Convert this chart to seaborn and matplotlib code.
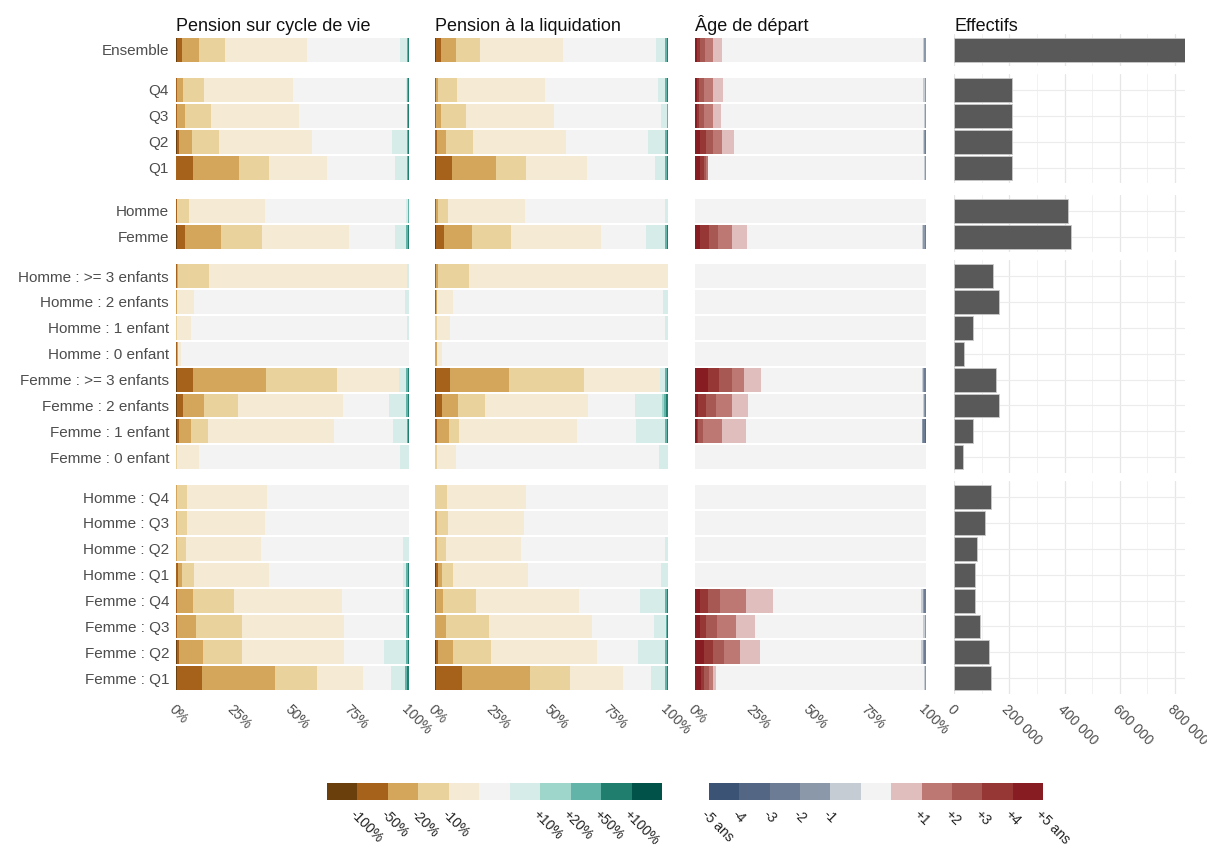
import numpy as np
import matplotlib
matplotlib.use("Agg")
import matplotlib.pyplot as plt
from matplotlib.colors import ListedColormap
from matplotlib.ticker import FixedLocator
import seaborn as sns

# ---- categories -------------------------------------------------------------
labels = [
    "Ensemble",
    "Q4", "Q3", "Q2", "Q1",
    "Homme", "Femme",
    "Homme : >= 3 enfants", "Homme : 2 enfants", "Homme : 1 enfant", "Homme : 0 enfant",
    "Femme : >= 3 enfants", "Femme : 2 enfants", "Femme : 1 enfant", "Femme : 0 enfant",
    "Homme : Q4", "Homme : Q3", "Homme : Q2", "Homme : Q1",
    "Femme : Q4", "Femme : Q3", "Femme : Q2", "Femme : Q1",
]
group_sizes = [1, 4, 2, 8, 8]

# ---- legend classes ---------------------------------------------------------
pension_classes = ["-100%", "-50%", "-20%", "-10%", "", "+10%", "+20%", "+50%", "+100%"]
pension_colors = ["#6b3f0c", "#a6611a", "#d4a65c", "#ead29c", "#f5ebd4", "#f3f3f3",
                  "#d5ece8", "#9fd6cc", "#62b4a8", "#1f7e6e", "#01534a"]
age_classes = ["-5 ans", "-4", "-3", "-2", "-1", "+1", "+2", "+3", "+4", "+5 ans"]
age_colors = ["#3b5475", "#536683", "#6c7c94", "#8a98aa", "#c5ccd4", "#f3f3f3",
              "#e0bebe", "#be7873", "#a85852", "#973735", "#871c22"]

# ---- shares (%) per class, one row per category, classes in legend order -----
cycle_de_vie = [
    [0.3, 2.4, 7.3, 11.0, 35.4, 39.7, 2.9, 0.0, 0.6, 0.4, 0.0],
    [0.0, 0.6, 2.3, 9.1, 38.4, 48.3, 0.3, 0.0, 0.6, 0.4, 0.0],
    [0.0, 0.5, 3.5, 11.2, 37.6, 46.2, 0.3, 0.0, 0.4, 0.3, 0.0],
    [0.3, 0.8, 5.9, 11.6, 39.6, 34.4, 6.4, 0.0, 0.6, 0.4, 0.0],
    [0.0, 7.1, 20.1, 12.9, 24.6, 29.3, 5.0, 0.0, 0.6, 0.4, 0.0],
    [0.0, 0.3, 0.3, 5.0, 32.5, 60.6, 1.0, 0.0, 0.2, 0.1, 0.0],
    [0.3, 3.7, 15.2, 17.9, 37.3, 19.6, 4.7, 0.0, 0.8, 0.5, 0.0],
    [0.0, 0.3, 0.6, 13.3, 84.8, 0.0, 1.0, 0.0, 0.0, 0.0, 0.0],
    [0.0, 0.0, 0.3, 0.3, 7.1, 90.7, 1.6, 0.0, 0.0, 0.0, 0.0],
    [0.0, 0.0, 0.0, 0.3, 6.3, 92.4, 1.0, 0.0, 0.0, 0.0, 0.0],
    [0.0, 0.4, 0.4, 0.0, 1.3, 97.9, 0.0, 0.0, 0.0, 0.0, 0.0],
    [0.3, 6.9, 31.4, 30.4, 26.6, 0.0, 3.1, 0.0, 0.8, 0.5, 0.0],
    [0.3, 2.6, 9.1, 14.8, 45.0, 19.8, 7.1, 0.0, 0.8, 0.5, 0.0],
    [0.3, 0.8, 5.5, 7.0, 54.2, 25.5, 5.7, 0.0, 0.6, 0.4, 0.0],
    [0.0, 0.0, 0.0, 0.5, 9.5, 86.1, 3.9, 0.0, 0.0, 0.0, 0.0],
    [0.0, 0.0, 0.3, 4.6, 34.3, 60.8, 0.0, 0.0, 0.0, 0.0, 0.0],
    [0.0, 0.0, 0.6, 4.3, 33.2, 61.9, 0.0, 0.0, 0.0, 0.0, 0.0],
    [0.0, 0.0, 0.3, 4.0, 32.3, 61.0, 2.4, 0.0, 0.0, 0.0, 0.0],
    [0.0, 0.9, 1.7, 5.1, 32.1, 57.5, 1.4, 0.0, 0.8, 0.5, 0.0],
    [0.0, 0.3, 6.9, 17.8, 46.1, 26.2, 1.4, 0.0, 0.8, 0.5, 0.0],
    [0.0, 0.3, 8.4, 19.6, 43.8, 26.6, 0.0, 0.0, 0.8, 0.5, 0.0],
    [0.3, 0.8, 10.3, 16.9, 43.8, 17.2, 9.4, 0.0, 0.8, 0.5, 0.0],
    [0.5, 10.5, 31.3, 18.1, 20.0, 11.7, 6.0, 0.0, 1.1, 0.8, 0.0],
]

liquidation = [
    [0.3, 2.3, 6.3, 10.2, 35.8, 40.0, 4.0, 0.0, 0.7, 0.4, 0.0],
    [0.0, 0.3, 0.8, 8.3, 37.9, 48.1, 3.4, 0.0, 0.7, 0.4, 0.0],
    [0.0, 0.3, 2.3, 10.5, 38.0, 45.8, 2.8, 0.0, 0.2, 0.1, 0.0],
    [0.0, 0.9, 4.0, 11.4, 40.0, 35.3, 7.1, 0.0, 0.8, 0.5, 0.0],
    [0.3, 7.0, 19.0, 12.8, 26.0, 29.3, 4.5, 0.0, 0.7, 0.4, 0.0],
    [0.0, 0.3, 0.8, 4.3, 33.2, 60.0, 1.4, 0.0, 0.0, 0.0, 0.0],
    [0.3, 3.7, 11.9, 16.7, 38.5, 19.5, 8.3, 0.0, 0.7, 0.4, 0.0],
    [0.0, 0.3, 1.1, 13.3, 85.3, 0.0, 0.0, 0.0, 0.0, 0.0, 0.0],
    [0.0, 0.3, 0.6, 0.0, 6.8, 90.3, 2.0, 0.0, 0.0, 0.0, 0.0],
    [0.0, 0.0, 0.0, 0.9, 5.7, 92.0, 1.4, 0.0, 0.0, 0.0, 0.0],
    [0.0, 0.0, 0.9, 0.0, 2.0, 97.1, 0.0, 0.0, 0.0, 0.0, 0.0],
    [0.3, 6.3, 25.1, 32.3, 32.6, 0.0, 2.0, 0.0, 0.9, 0.5, 0.0],
    [0.3, 2.6, 7.1, 11.3, 44.4, 20.0, 11.7, 0.8, 1.1, 0.7, 0.0],
    [0.0, 0.9, 5.1, 4.3, 50.6, 25.4, 12.6, 0.0, 0.7, 0.4, 0.0],
    [0.0, 0.0, 0.0, 0.9, 8.2, 86.9, 4.0, 0.0, 0.0, 0.0, 0.0],
    [0.0, 0.0, 0.0, 5.1, 34.0, 60.9, 0.0, 0.0, 0.0, 0.0, 0.0],
    [0.0, 0.0, 0.9, 4.8, 32.3, 62.0, 0.0, 0.0, 0.0, 0.0, 0.0],
    [0.0, 0.0, 0.9, 4.0, 32.2, 61.5, 1.4, 0.0, 0.0, 0.0, 0.0],
    [0.3, 0.8, 2.0, 4.6, 32.0, 57.2, 3.1, 0.0, 0.0, 0.0, 0.0],
    [0.0, 0.5, 2.9, 14.0, 44.5, 26.1, 10.6, 0.0, 0.9, 0.5, 0.0],
    [0.0, 0.0, 4.9, 18.1, 44.4, 26.6, 5.1, 0.0, 0.6, 0.3, 0.0],
    [0.3, 1.1, 6.3, 16.3, 45.4, 17.9, 11.6, 0.0, 0.7, 0.4, 0.0],
    [0.5, 11.1, 29.3, 17.1, 22.9, 11.7, 6.3, 0.0, 0.7, 0.4, 0.0],
]

# age classes: -5 ... -1, 0, +1 ... +5 (bars are drawn from +5 on the left)
age_depart = [
    [0.0, 0.0, 0.0, 0.7, 0.4, 87.3, 3.8, 3.3, 2.2, 1.4, 0.9],
    [0.0, 0.0, 0.0, 0.6, 0.5, 86.7, 4.2, 4.0, 2.1, 1.0, 0.9],
    [0.0, 0.0, 0.0, 0.3, 0.4, 88.2, 3.3, 3.8, 2.1, 1.0, 0.9],
    [0.0, 0.0, 0.5, 0.5, 0.4, 81.9, 4.9, 3.8, 3.1, 2.9, 2.0],
    [0.0, 0.0, 0.0, 0.4, 0.5, 93.6, 0.3, 0.6, 0.9, 1.7, 2.3],
    [0.0, 0.0, 0.0, 0.0, 0.0, 100.0, 0.0, 0.0, 0.0, 0.0, 0.0],
    [0.0, 0.0, 0.5, 0.8, 0.4, 75.6, 6.8, 5.8, 4.2, 3.6, 2.3],
    [0.0, 0.0, 0.0, 0.0, 0.0, 100.0, 0.0, 0.0, 0.0, 0.0, 0.0],
    [0.0, 0.0, 0.0, 0.0, 0.0, 100.0, 0.0, 0.0, 0.0, 0.0, 0.0],
    [0.0, 0.0, 0.0, 0.0, 0.0, 100.0, 0.0, 0.0, 0.0, 0.0, 0.0],
    [0.0, 0.0, 0.0, 0.0, 0.0, 100.0, 0.0, 0.0, 0.0, 0.0, 0.0],
    [0.0, 0.0, 0.7, 0.6, 0.4, 69.9, 7.0, 5.5, 5.3, 5.1, 5.5],
    [0.0, 0.0, 0.4, 0.5, 0.5, 75.5, 7.0, 7.2, 4.0, 3.8, 1.1],
    [0.0, 0.5, 0.6, 0.6, 0.0, 76.3, 10.4, 8.2, 2.0, 0.6, 0.8],
    [0.0, 0.0, 0.0, 0.0, 0.0, 100.0, 0.0, 0.0, 0.0, 0.0, 0.0],
    [0.0, 0.0, 0.0, 0.0, 0.0, 100.0, 0.0, 0.0, 0.0, 0.0, 0.0],
    [0.0, 0.0, 0.0, 0.0, 0.0, 100.0, 0.0, 0.0, 0.0, 0.0, 0.0],
    [0.0, 0.0, 0.0, 0.0, 0.0, 100.0, 0.0, 0.0, 0.0, 0.0, 0.0],
    [0.0, 0.0, 0.0, 0.0, 0.0, 100.0, 0.0, 0.0, 0.0, 0.0, 0.0],
    [0.0, 0.0, 0.8, 0.7, 0.5, 64.1, 11.8, 11.2, 5.4, 3.5, 2.0],
    [0.0, 0.0, 0.0, 0.6, 0.5, 73.0, 8.2, 8.2, 4.6, 2.9, 2.0],
    [0.0, 0.0, 0.7, 0.7, 0.6, 70.0, 8.5, 6.9, 4.8, 4.1, 3.7],
    [0.0, 0.0, 0.0, 0.4, 0.5, 90.2, 1.1, 1.9, 1.9, 1.4, 2.6],
]

effectifs = [836000,
             209000, 209000, 209000, 209000,
             412000, 424000,
             141000, 163000, 69000, 36000, 152000, 163000, 69000, 33000,
             134000, 112000, 83000, 76000, 76000, 94000, 127000, 134000]

panel_titles = ["Pension sur cycle de vie", "Pension à la liquidation", "Âge de départ", "Effectifs"]
pct_ticks = [0, 25, 50, 75, 100]
pct_ticklabels = ["0%", "25%", "50%", "75%", "100%"]
eff_ticks = [0, 200000, 400000, 600000, 800000]
eff_ticklabels = ["0", "200 000", "400 000", "600 000", "800 000"]

# ---- layout (pixels) ----------------------------------------------------------
W, H = 1207, 847
col_x = [(176, 409), (435, 668), (695, 926), (954, 1185)]
group_first = [50, 90, 211, 276, 497]
step = 25.9
BAR_W = 0.92
TXT = "#4d4d4d"

sns.set_style("white")
plt.rcParams["font.family"] = ["Liberation Sans", "DejaVu Sans"]

fig = plt.figure(figsize=(W / 100, H / 100), dpi=100)


def px_axes(x0, y0, x1, y1):
    return fig.add_axes([x0 / W, 1 - y1 / H, (x1 - x0) / W, (y1 - y0) / H])


def rotate_ticks(ax, size=10, color=TXT):
    for t in ax.get_xticklabels():
        t.set_rotation(-45)
        t.set_ha("left")
        t.set_va("top")
        t.set_rotation_mode("anchor")
        t.set_fontsize(size)
        t.set_color(color)


def stacked(ax, rows, labs, colors, reverse=False):
    arr = np.array(rows, dtype=float)
    if reverse:
        arr = arr[:, ::-1]
        colors = colors[::-1]
    arr = arr / arr.sum(axis=1, keepdims=True) * 100  # position = "fill"
    cum = np.cumsum(arr, axis=1)
    for k in range(arr.shape[1] - 1, -1, -1):
        sns.barplot(x=cum[:, k], y=labs, order=labs, color=colors[k], orient="h",
                    width=BAR_W, saturation=1, linewidth=0, errorbar=None, ax=ax)
    ax.set_xlim(0, 100)


panel_data = [cycle_de_vie, liquidation, age_depart]
panel_colors = [pension_colors, pension_colors, age_colors]

start = 0
for gi, n in enumerate(group_sizes):
    labs = labels[start:start + n]
    top = group_first[gi] - 0.6 * step
    bottom = group_first[gi] + (n - 1 + 0.6) * step
    last = gi == len(group_sizes) - 1
    for ci in range(4):
        ax = px_axes(col_x[ci][0], top, col_x[ci][1], bottom)
        if ci < 3:
            stacked(ax, panel_data[ci][start:start + n], labs, panel_colors[ci], reverse=(ci == 2))
            ax.set_xticks(pct_ticks)
            if last:
                ax.set_xticklabels(pct_ticklabels)
                ax.tick_params(axis="x", length=3, width=0.8, color="#333333", pad=3)
                rotate_ticks(ax)
            else:
                ax.tick_params(axis="x", length=0, labelbottom=False)
        else:
            ax.set_axisbelow(True)
            sns.barplot(x=effectifs[start:start + n], y=labs, order=labs, color="#595959",
                        orient="h", width=BAR_W, saturation=1, edgecolor="#c9c9c9",
                        linewidth=0.6, errorbar=None, ax=ax)
            ax.set_xlim(0, 836000)
            ax.set_xticks(eff_ticks)
            ax.xaxis.set_minor_locator(FixedLocator([100000, 300000, 500000, 700000]))
            ax.grid(axis="x", which="major", color="#e6e6e6", lw=0.9)
            ax.grid(axis="x", which="minor", color="#f2f2f2", lw=0.7)
            ax.grid(axis="y", which="major", color="#ececec", lw=0.8)
            if last:
                ax.set_xticklabels(eff_ticklabels)
                ax.tick_params(axis="x", which="major", length=3, width=0.8, color="#333333", pad=3)
                ax.tick_params(axis="x", which="minor", length=0)
                rotate_ticks(ax)
            else:
                ax.tick_params(axis="x", which="both", length=0, labelbottom=False)
        ax.set_ylim(n - 0.4, -0.6)
        ax.set_xlabel("")
        ax.set_ylabel("")
        for s in ax.spines.values():
            s.set_visible(False)
        if ci == 0:
            ax.tick_params(axis="y", length=0, pad=5, labelsize=11, labelcolor=TXT)
        else:
            ax.tick_params(axis="y", length=0, labelleft=False)
        if gi == 0:
            fig.text(col_x[ci][0] / W, 1 - 31 / H, panel_titles[ci], fontsize=13,
                     color="#111111", ha="left", va="baseline")
    start += n

# ---- colour legends -------------------------------------------------------------
leg1 = px_axes(327, 783, 662, 800)
sns.heatmap(np.arange(11)[None, :], cmap=ListedColormap(pension_colors), vmin=-0.5, vmax=10.5,
            cbar=False, xticklabels=False, yticklabels=False, linewidths=0, ax=leg1)
leg1.set_xticks([1, 2, 3, 4, 7, 8, 9, 10])
leg1.set_xticklabels([c for c in pension_classes if c])
leg1.tick_params(axis="x", length=0, pad=5)
rotate_ticks(leg1, size=10, color="#222222")

leg2 = px_axes(709, 783, 1043, 800)
sns.heatmap(np.arange(11)[None, :], cmap=ListedColormap(age_colors), vmin=-0.5, vmax=10.5,
            cbar=False, xticklabels=False, yticklabels=False, linewidths=0, ax=leg2)
leg2.set_xticks([0, 1, 2, 3, 4, 7, 8, 9, 10, 11])
leg2.set_xticklabels(age_classes)
leg2.tick_params(axis="x", length=0, pad=5)
rotate_ticks(leg2, size=10, color="#222222")

fig.savefig("out.png", dpi=100)
